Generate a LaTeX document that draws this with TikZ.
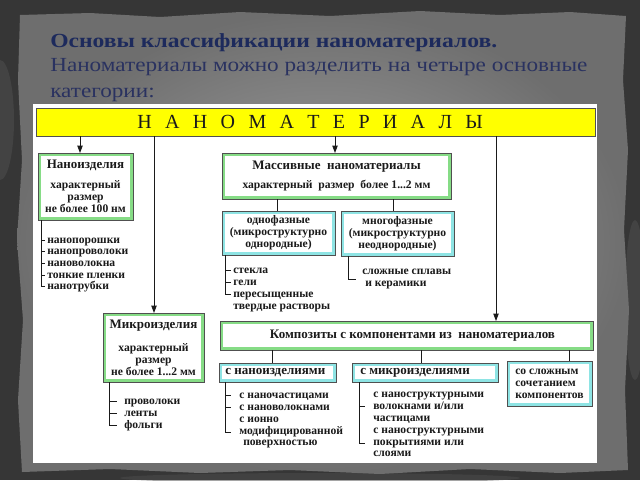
\documentclass[tikz,border=0pt]{standalone}
\usepackage{graphicx}
\usepackage{fontspec}
\setmainfont{Liberation Serif}
\usetikzlibrary{arrows.meta}
\definecolor{bgdark}{HTML}{363636}
\definecolor{bglight}{HTML}{4C4C4C}
\definecolor{paperin}{HTML}{A4A4A4}
\definecolor{paperout}{HTML}{6E6E6E}
\definecolor{titleblue}{HTML}{1D2A5C}
\definecolor{bodyblue}{HTML}{2A3260}
\definecolor{edgec}{HTML}{505050}
\definecolor{greenband}{HTML}{86DC86}
\definecolor{cyanband}{HTML}{8EE4E4}
\definecolor{yel}{HTML}{FFFF00}
\definecolor{ink}{HTML}{1A1A1A}
\newcommand\smfont{\bfseries\fontsize{8.7}{9}\selectfont}
\newcommand\hdfont{\bfseries\fontsize{9.75}{11}\selectfont}
\newcommand\lsp{\hspace{10pt}}
\begin{document}
\begin{tikzpicture}[x=0.75pt,y=-0.75pt,
  sz/.style 2 args={minimum width=#1*0.75pt, minimum height=#2*0.75pt},
  frame/.style={draw=edgec, line width=0.6pt, fill=white, inner sep=0pt, outer sep=0pt, align=center, text=ink, font=\smfont},
  gbox/.style={frame, path picture={\draw[greenband, line width=4.5pt] (path picture bounding box.south west) rectangle (path picture bounding box.north east);}},
  cbox/.style={frame, path picture={\draw[cyanband, line width=4.5pt] (path picture bounding box.south west) rectangle (path picture bounding box.north east);}},
  ybox/.style={draw=edgec, line width=0.6pt, fill=yel, inner sep=0pt, outer sep=0pt, text=ink, font=\fontsize{15}{18}\selectfont},
  item/.style={font=\smfont, anchor=base west, inner sep=0pt, text=ink},
  link/.style={draw=ink, line width=0.6pt},
  arr/.style={link, -{Triangle[length=5.5pt, width=4pt]}},
]
\useasboundingbox (0,0) rectangle (640,480);
% background and paper
\fill[bgdark] (0,0) rectangle (640,480);
\fill[bglight, opacity=0.6] (0,120) ellipse (14 and 60);
\fill[bglight, opacity=0.6] (635,300) ellipse (10 and 80);
\fill[bglight, opacity=0.5] (320,478) ellipse (200 and 5);
\shade[inner color=paperin, outer color=paperout]
  (20,15) -- (90,13) -- (160,17) -- (240,12) -- (330,16) -- (420,11) -- (500,15) -- (570,12) -- (626,16)
  -- (623,80) -- (628,150) -- (624,230) -- (629,310) -- (625,390) -- (628,470)
  -- (560,473) -- (470,469) -- (380,474) -- (290,470) -- (200,473) -- (110,469) -- (22,472)
  -- (18,400) -- (23,320) -- (17,240) -- (22,160) -- (18,80) -- cycle;
% title
\node[anchor=base west, inner sep=0pt, text=titleblue, font=\bfseries\fontsize{15}{18}\selectfont] (t1) at (50,47)
  {\scalebox{1.18}[1]{Основы классификации наноматериалов.}};
\node[anchor=base west, inner sep=0pt, text=bodyblue, font=\fontsize{15}{18}\selectfont] (t2) at (50,71)
  {\scalebox{1.16}[1]{Наноматериалы можно разделить на четыре основные}};
\node[anchor=base west, inner sep=0pt, text=bodyblue, font=\fontsize{15}{18}\selectfont] (t3) at (50,97)
  {\scalebox{1.16}[1]{категории:}};
% white panel
\fill[white] (33,104) rectangle (597,463);
% header bar
\node[ybox, sz={559}{28}] (ybar) at (315.5,122)
  {\hspace{-8pt}Н\lsp А\lsp Н\lsp О\lsp М\lsp А\lsp Т\lsp Е\lsp Р\lsp И\lsp А\lsp Л\lsp Ы};
% boxes
\node[gbox, sz={95}{67}] (nano) at (85.5,186.5)
  {{\hdfont Наноизделия}\\[6pt]характерный\\размер\\не более 100 нм};
\node[gbox, sz={229}{46}] (mass) at (336.5,176)
  {{\hdfont Массивные\ \ наноматериалы}\\[5pt]характерный\ \ размер\ \ более 1...2 мм};
\node[cbox, sz={113}{44}] (odno) at (278.5,233)
  {однофазные\\(микроструктурно\\однородные)};
\node[cbox, sz={113}{45}] (mnogo) at (397.5,233.5)
  {многофазные\\(микроструктурно\\неоднородные)};
\node[gbox, sz={101}{69}] (micro) at (153.5,347.5)
  {{\hdfont Микроизделия}\\[8pt]характерный\\размер\\не более 1...2 мм};
\node[gbox, sz={373}{29}] (komp) at (406.5,335.5)
  {\hspace{9pt}\hdfont Композиты\ с\ компонентами\ из\ \ наноматериалов};
\node[cbox, sz={117}{19}, label={[anchor=west, xshift=4.5pt, inner sep=0pt, text=ink, font=\hdfont]west:с наноизделиями}] (snano) at (277.5,372.5) {};
\node[cbox, sz={146}{19}, label={[anchor=west, xshift=6pt, inner sep=0pt, text=ink, font=\hdfont]west:с микроизделиями}] (smicro) at (425,372.5) {};
\node[cbox, sz={85}{45}, align=left] (sloj) at (549.5,383.5)
  {со сложным\\сочетанием\\компонентов};
% connectors from header
\coordinate (c80) at (80,0);
\coordinate (c154) at (154,0);
\coordinate (c335) at (335,0);
\coordinate (c496) at (496,0);
\coordinate (c277) at (277,0);
\coordinate (c393) at (393,0);
\coordinate (c272) at (272,0);
\coordinate (c421) at (421,0);
\coordinate (c569) at (569,0);
\draw[arr] (ybar.south -| c80) -- (nano.north -| c80);
\draw[arr] (ybar.south -| c154) -- (micro.north -| c154);
\draw[arr] (ybar.south -| c335) -- (mass.north -| c335);
\draw[arr] (ybar.south -| c496) -- (komp.north -| c496);
\draw[link] (mass.south -| c277) -- (odno.north -| c277);
\draw[link] (mass.south -| c393) -- (mnogo.north -| c393);
\draw[link] (komp.south -| c272) -- (snano.north -| c272);
\draw[link] (komp.south -| c421) -- (smicro.north -| c421);
\draw[link] (komp.south -| c569) -- (sloj.north -| c569);
% list: nano
\coordinate (lnano) at (41,286.8);
\draw[link] (nano.south -| lnano) -- (lnano) -- ++(4,0);
\foreach \yy in {240,251.7,263.4,275.1} \draw[link] (41,\yy) -- (45,\yy);
\foreach \t/\yy [count=\k] in {нанопорошки/240, нанопроволоки/251.7, нановолокна/263.4, тонкие пленки/275.1, нанотрубки/286.8}
  \node[item] (na\k) at (47,\yy+3) {\t};
% list: micro
\coordinate (lmicro) at (109.5,425);
\draw[link] (micro.south -| lmicro) -- (lmicro) -- ++(7.5,0);
\foreach \yy in {401,413} \draw[link] (109.5,\yy) -- (117,\yy);
\foreach \t/\yy [count=\k] in {проволоки/401, ленты/413, фольги/425}
  \node[item] (mi\k) at (124,\yy+3) {\t};
% list: odno
\coordinate (lodno) at (225,294);
\draw[link] (odno.south -| lodno) -- (lodno) -- ++(6,0);
\foreach \yy in {270,282} \draw[link] (225,\yy) -- (231,\yy);
\foreach \t/\yy [count=\k] in {стекла/270, гели/282, пересыщенные/294, твердые растворы/306}
  \node[item] (od\k) at (233,\yy+3) {\t};
% list: mnogo
\coordinate (lmnogo) at (348,279);
\draw[link] (mnogo.south -| lmnogo) -- (lmnogo) -- ++(8,0);
\node[item] (mn1) at (362,274) {сложные сплавы};
\node[item] (mn2) at (365,286) {и керамики};
% list: snano
\coordinate (lsnano) at (225,432);
\draw[link] (snano.south -| lsnano) -- (lsnano) -- ++(6,0);
\foreach \yy in {395,407} \draw[link] (225,\yy) -- (231,\yy);
\foreach \t/\yy [count=\k] in {с наночастицами/395, с нановолокнами/407, с ионно/419, модифицированной/431}
  \node[item] (sn\k) at (239,\yy+3) {\t};
\node[item] (sn5) at (243,445) {поверхностью};
% list: smicro
\coordinate (lsmicro) at (359,443);
\draw[link] (smicro.south -| lsmicro) -- (lsmicro) -- ++(6,0);
\draw[link] (359,406) -- (365,406);
\foreach \t/\yy [count=\k] in {с наноструктурными/394, {волокнами и/или}/406, частицами/418, с наноструктурными/430, покрытиями или/442, слоями/453}
  \node[item] (sm\k) at (373,\yy+3) {\t};
\end{tikzpicture}
\end{document}
